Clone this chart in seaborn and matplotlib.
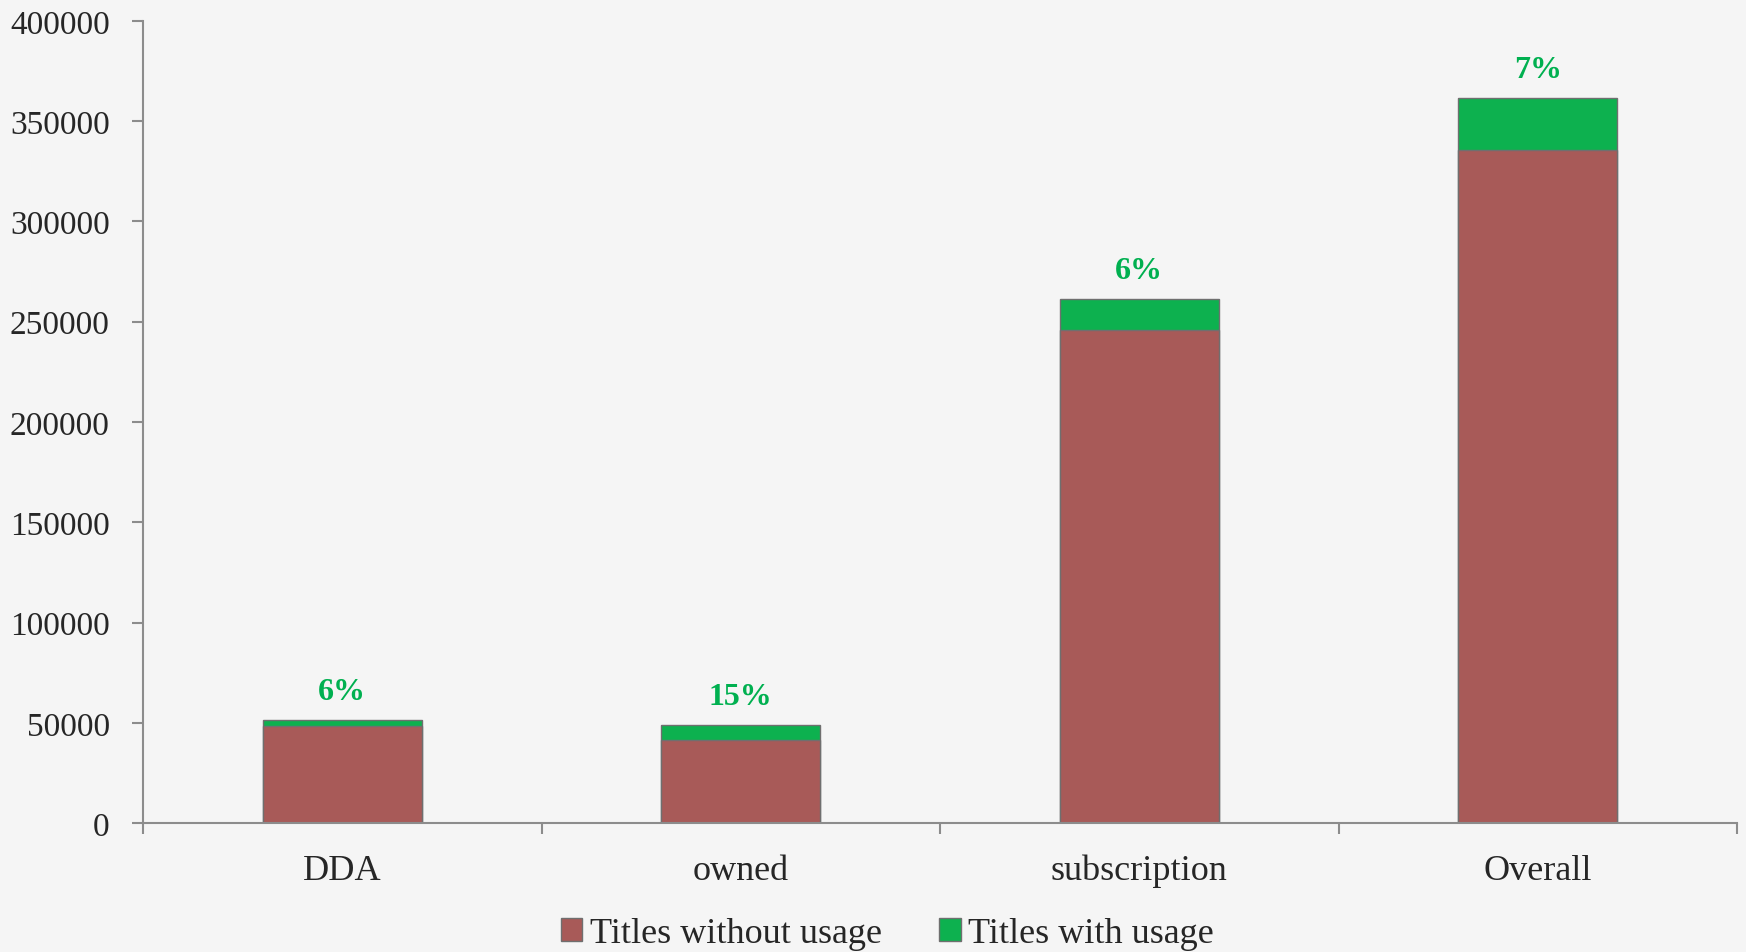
import numpy as np
import pandas as pd
import seaborn as sns
import matplotlib.pyplot as plt

categories = ["DDA", "owned", "subscription", "Overall"]
without_usage = [48500, 41500, 245800, 335800]
with_usage = [3100, 7300, 15300, 25700]
pct_labels = ["6%", "15%", "6%", "7%"]

red = "#a85a58"
green = "#0db14f"

sns.set_style("white")
plt.rcParams['font.family'] = ['Liberation Serif', 'DejaVu Serif']

df = pd.DataFrame({"category": categories,
                   "without": without_usage,
                   "with": with_usage})
df["total"] = df["without"] + df["with"]

fig = plt.figure(figsize=(17.46, 9.53), dpi=100, facecolor="#f5f5f5")
ax = fig.add_axes([143 / 1746, 1 - 824 / 953, (1737 - 143) / 1746, (824 - 22) / 953])
ax.set_facecolor("none")

sns.barplot(data=df, x="category", y="total", order=categories, color=green,
            width=0.4, edgecolor="#6f6f6f", linewidth=1, saturation=1, ax=ax,
            label="Titles with usage")
sns.barplot(data=df, x="category", y="without", order=categories, color=red,
            width=0.4, edgecolor="#6f6f6f", linewidth=1, saturation=1, ax=ax,
            label="Titles without usage")

for i, (tot, lab) in enumerate(zip(df["total"], pct_labels)):
    ax.text(i, tot + 7000, lab, ha="center", va="bottom", color="#00b050",
            fontsize=23, fontweight="bold")

ax.set_xlim(-0.5, 3.5)
ax.set_ylim(0, 400000)
ax.set_yticks(np.arange(0, 400001, 50000))
ax.set_xlabel(None)
ax.set_ylabel(None)

for s in ["top", "right"]:
    ax.spines[s].set_visible(False)
for s in ["left", "bottom"]:
    ax.spines[s].set_color("#8c8c8c")
    ax.spines[s].set_linewidth(1.5)

ax.tick_params(axis="y", length=8, color="#8c8c8c", width=1.5, labelsize=24, pad=16, left=True)
ax.tick_params(axis="x", which="major", length=0, labelsize=26, pad=22)
ax.set_xticks(np.arange(-0.5, 4, 1), minor=True)
ax.tick_params(axis="x", which="minor", length=8, color="#8c8c8c", width=1.5, bottom=True)

handles, labels = ax.get_legend_handles_labels()
order = [labels.index("Titles without usage"), labels.index("Titles with usage")]
ax.legend([handles[i] for i in order], [labels[i] for i in order],
          loc="upper center", bbox_to_anchor=(0.467, -0.104), ncol=2, frameon=False,
          fontsize=26, handlelength=0.6, handleheight=0.6, handletextpad=0.2,
          columnspacing=1.6, borderaxespad=0.2, borderpad=0.1)

plt.savefig("out.png", dpi=100, facecolor=fig.get_facecolor())
